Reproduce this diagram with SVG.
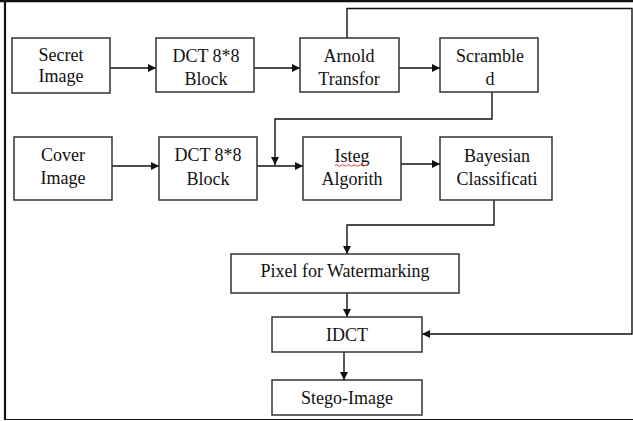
<svg xmlns="http://www.w3.org/2000/svg" width="633" height="421" viewBox="0 0 633 421">
  <style>
    .box { fill: #fff; stroke: #333; stroke-width: 1.5; }
    .lbl { font-family: "Liberation Serif", "Times New Roman", serif; font-size: 18px; fill: #111; text-anchor: middle; }
    .wire { fill: none; stroke: #111; stroke-width: 1.4; }
    .frame { fill: none; stroke: #111; }
  </style>
  <defs>
    <marker id="arrow" viewBox="0 0 10 10" refX="10" refY="5" markerWidth="8" markerHeight="8" markerUnits="userSpaceOnUse" orient="auto">
      <path d="M0,0 L10,5 L0,10 Z" fill="#111"/>
    </marker>
  </defs>

  <rect width="633" height="421" fill="#fff"/>

  <!-- page frame -->
  <g id="frame">
    <line class="frame" x1="0" y1="1.2" x2="633" y2="1.2" stroke-width="2.2"/>
    <line class="frame" x1="5" y1="0" x2="5" y2="420" stroke-width="2.2"/>
    <line class="frame" x1="4" y1="419.5" x2="633" y2="419.5" stroke-width="1.2" stroke="#555"/>
  </g>

  <!-- connectors -->
  <g id="connectors">
    <line class="wire" x1="110" y1="68" x2="156" y2="68" marker-end="url(#arrow)"/>
    <line class="wire" x1="254" y1="68" x2="300" y2="68" marker-end="url(#arrow)"/>
    <line class="wire" x1="399" y1="68" x2="440" y2="68" marker-end="url(#arrow)"/>
    <polyline class="wire" points="492,92 492,119 275,119 275,165" marker-end="url(#arrow)"/>
    <line class="wire" x1="112" y1="166" x2="159" y2="166" marker-end="url(#arrow)"/>
    <line class="wire" x1="257" y1="166" x2="303" y2="166" marker-end="url(#arrow)"/>
    <line class="wire" x1="401" y1="164" x2="440" y2="164" marker-end="url(#arrow)"/>
    <polyline class="wire" points="494,200 494,225 347,225 347,254" marker-end="url(#arrow)"/>
    <line class="wire" x1="347" y1="293" x2="347" y2="317" marker-end="url(#arrow)"/>
    <line class="wire" x1="344" y1="352" x2="344" y2="380" marker-end="url(#arrow)"/>
    <polyline class="wire" points="347,38 347,8.5 632,8.5 632,334 422,334" marker-end="url(#arrow)"/>
  </g>

  <g id="secret-image">
    <rect class="box" x="12" y="38" width="98" height="55"/>
    <text class="lbl" x="61" y="61">Secret</text>
    <text class="lbl" x="61" y="82">Image</text>
  </g>
  <g id="dct-secret">
    <rect class="box" x="156" y="38" width="98" height="54"/>
    <text class="lbl" x="206" y="62">DCT 8*8</text>
    <text class="lbl" x="206" y="85">Block</text>
  </g>
  <g id="arnold">
    <rect class="box" x="300" y="38" width="99" height="54"/>
    <text class="lbl" x="349" y="62">Arnold</text>
    <text class="lbl" x="349" y="85">Transfor</text>
  </g>
  <g id="scrambled">
    <rect class="box" x="440" y="38" width="98" height="54"/>
    <text class="lbl" x="490" y="62">Scramble</text>
    <text class="lbl" x="490" y="85">d</text>
  </g>

  <g id="cover-image">
    <rect class="box" x="14" y="137" width="98" height="63"/>
    <text class="lbl" x="63" y="161">Cover</text>
    <text class="lbl" x="63" y="184">Image</text>
  </g>
  <g id="dct-cover">
    <rect class="box" x="159" y="137" width="98" height="63"/>
    <text class="lbl" x="208" y="161">DCT 8*8</text>
    <text class="lbl" x="208" y="185">Block</text>
  </g>
  <g id="isteg">
    <rect class="box" x="303" y="137" width="98" height="63"/>
    <text class="lbl" x="352" y="162">Isteg</text>
    <path d="M335,165.5 q1.5,-1.5 3,0 t3,0 t3,0 t3,0 t3,0 t3,0 t3,0 t3,0 t3,0 t3,0 t3,0" fill="none" stroke="#e03030" stroke-width="0.9"/>
    <text class="lbl" x="352" y="185">Algorith</text>
  </g>
  <g id="bayesian">
    <rect class="box" x="440" y="137" width="112" height="63"/>
    <text class="lbl" x="497" y="162">Bayesian</text>
    <text class="lbl" x="497" y="185">Classificati</text>
  </g>

  <g id="pixel-watermarking">
    <rect class="box" x="231" y="254" width="228" height="39"/>
    <text class="lbl" x="345" y="277">Pixel for Watermarking</text>
  </g>
  <g id="idct">
    <rect class="box" x="272" y="317" width="150" height="35"/>
    <text class="lbl" x="347" y="341">IDCT</text>
  </g>
  <g id="stego-image">
    <rect class="box" x="272" y="380" width="150" height="35"/>
    <text class="lbl" x="347" y="404">Stego-Image</text>
  </g>
</svg>
